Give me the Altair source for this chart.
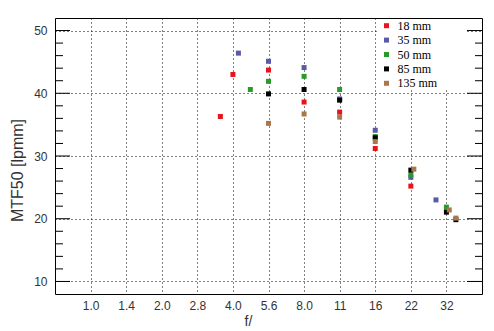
import altair as alt
import pandas as pd

series = ["18 mm", "35 mm", "50 mm", "85 mm", "135 mm"]
colors = ["#e8141c", "#5a5aa8", "#2a9a2a", "#000000", "#a87848"]

f18 = [3.54, 4.0, 5.657, 8.0, 11.31, 16.0, 22.63]
v18 = [36.3, 43.0, 43.7, 38.6, 37.0, 31.2, 25.2]
f35 = [4.22, 5.657, 8.0, 11.31, 16.0, 22.63, 28.9]
v35 = [46.4, 45.1, 44.1, 39.1, 34.1, 26.6, 23.0]
f50 = [4.74, 5.657, 8.0, 11.31, 16.0, 22.63, 32.0]
v50 = [40.6, 41.9, 42.7, 40.6, 33.1, 27.0, 21.85]
f85 = [5.657, 8.0, 11.31, 16.0, 22.63, 32.0, 35.1]
v85 = [39.9, 40.6, 38.9, 32.9, 27.75, 21.05, 19.85]
f135 = [5.657, 8.0, 11.31, 16.0, 23.3, 32.9, 35.1]
v135 = [35.2, 36.7, 36.2, 32.3, 27.9, 21.4, 20.1]

x_ticks = [1.0, 1.4142, 2.0, 2.8284, 4.0, 5.6569, 8.0, 11.3137, 16.0, 22.6274, 32.0]
x_labels = ["1.0", "1.4", "2.0", "2.8", "4.0", "5.6", "8.0", "11", "16", "22", "32"]
y_major = [10, 20, 30, 40, 50]
y_minor = [12, 14, 16, 18, 22, 24, 26, 28, 32, 34, 36, 38, 42, 44, 46, 48]

rows = []
for name, fs, vs in zip(series, [f18, f35, f50, f85, f135], [v18, v35, v50, v85, v135]):
    for f, v in zip(fs, vs):
        rows.append({"lens": name, "f": f, "mtf": v})
df = pd.DataFrame(rows)

# label expression built from tick lists
expr = f"'{x_labels[-1]}'"
for i in range(len(x_ticks) - 2, -1, -1):
    thr = x_ticks[i] * 1.19
    expr = f"datum.value < {thr:.4f} ? '{x_labels[i]}' : (" + expr + ")"
label_expr = expr

xscale = alt.Scale(type="log", base=2, domain=[0.70711, 45.2548], nice=False)
yscale = alt.Scale(domain=[8, 52], nice=False, zero=False)

yaxis = alt.Axis(
    values=y_major, ticks=False, domain=False,
    grid=True, gridColor="black", gridDash=[1, 3], gridOpacity=1,
    labelFont="Liberation Sans", labelFontSize=12, labelColor="#333",
    labelPadding=8, title="MTF50 [lpmm]", titleFont="Liberation Sans",
    titleFontSize=16, titleFontWeight="normal", titleColor="#333",
    titleX=-38, titleY=152, titleAngle=270, titleBaseline="middle",
    titleAlign="center")

points = alt.Chart(df).mark_square(size=25, opacity=1).encode(
    x=alt.X("f:Q", scale=xscale, axis=alt.Axis(
        values=x_ticks, labelExpr=label_expr, ticks=False, domain=False,
        grid=True, gridColor="black", gridDash=[1, 3], gridOpacity=1,
        labelFont="Liberation Sans", labelFontSize=12, labelColor="#333",
        labelPadding=6, title="f/", titleFont="Liberation Sans", titleFontSize=14,
        titleFontWeight="normal", titleColor="#333", titleX=193, titleY=27,
        titleBaseline="middle", titleAlign="center")),
    y=alt.Y("mtf:Q", scale=yscale, axis=yaxis),
    color=alt.Color("lens:N", scale=alt.Scale(domain=series, range=colors),
                    legend=alt.Legend(
                        title=None, orient="none", legendX=325.5, legendY=1.7,
                        symbolType="square", symbolSize=25, symbolStrokeWidth=0,
                        labelFont="Liberation Serif", labelFontSize=12,
                        labelColor="black", labelOffset=5, rowPadding=2.4,
                        padding=0)),
    order=alt.Order("idx:Q"),
).transform_window(idx="row_number()")

bg = alt.Chart(pd.DataFrame({"a": [0]})).mark_rect(color="white").encode(
    x=alt.value(322), x2=alt.value(412), y=alt.value(1), y2=alt.value(72))

dmaj = pd.DataFrame({"mtf": y_major})
dmin = pd.DataFrame({"mtf": y_minor})

def tick_layer(d, x1, x2):
    return alt.Chart(d).mark_rule(color="black", strokeWidth=1).encode(
        y=alt.Y("mtf:Q", scale=yscale, axis=yaxis), x=alt.value(x1), x2=alt.value(x2))

chart = alt.layer(
    bg,
    points,
    tick_layer(dmaj, 0, 15),
    tick_layer(dmin, 0, 8),
    tick_layer(dmaj, 427, 412),
    tick_layer(dmin, 427, 420),
).properties(
    width=427, height=276,
    padding={"left": 55, "top": 18, "right": 12, "bottom": 37},
    autosize="none",
    background="white",
).configure_view(stroke="black", strokeWidth=1)

chart.save("out.html", embed_options={"renderer": "svg", "actions": False})
